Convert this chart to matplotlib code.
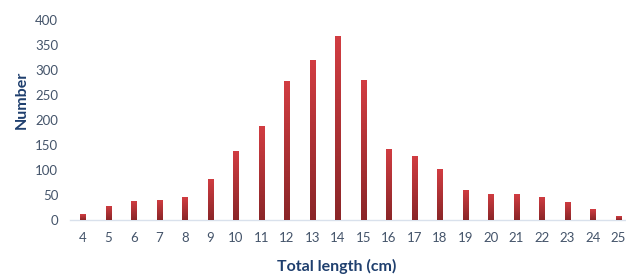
import numpy as np
import matplotlib
matplotlib.use('Agg')
import matplotlib.pyplot as plt
from matplotlib.colors import LinearSegmentedColormap

# length classes (cm) and counts
lengths = [4, 5, 6, 7, 8, 9, 10, 11, 12, 13, 14, 15, 16, 17, 18, 19, 20, 21, 22, 23, 24, 25]
counts = [12, 29, 39, 41, 46, 83, 139, 188, 279, 321, 369, 280, 143, 129, 102, 61, 53, 52, 47, 37, 22, 8]
yticks = [0, 50, 100, 150, 200, 250, 300, 350, 400]

plt.rcParams['font.family'] = ['Lato', 'DejaVu Sans']

text_col = '#44546a'
label_col = '#1f3f6e'

fig = plt.figure(figsize=(6.26, 2.75), dpi=100)
ax = fig.add_axes([70 / 626, 55 / 275, 561 / 626, 200 / 275])

x = np.arange(len(lengths))
bars = ax.bar(x, counts, width=0.2, color='#b52f33', edgecolor='none', zorder=2)

# vertical red gradient on each bar
cmap = LinearSegmentedColormap.from_list('redgrad', ['#8a2628', '#d23d42'])
grad = np.linspace(0, 1, 256).reshape(-1, 1)
for b in bars:
    bx, by = b.get_x(), b.get_y()
    bw, bh = b.get_width(), b.get_height()
    im = ax.imshow(grad, cmap=cmap, origin='lower', aspect='auto',
                   extent=[bx, bx + bw, by, by + bh], zorder=3)
    im.set_clip_path(b)

ax.set_xlim(-0.5, len(lengths) - 0.5)
ax.set_ylim(0, 400)
ax.set_xticks(x)
ax.set_xticklabels([str(v) for v in lengths])
ax.set_yticks(yticks)

for s in ['top', 'right', 'left']:
    ax.spines[s].set_visible(False)
ax.spines['bottom'].set_color('#d9e1ec')
ax.spines['bottom'].set_linewidth(1.0)

ax.tick_params(axis='both', length=0, labelsize=9.5, colors=text_col)
ax.tick_params(axis='x', pad=9)
ax.tick_params(axis='y', pad=8.5)

ax.set_ylabel('Number', fontsize=11.5, fontweight='bold', color=label_col)
ax.yaxis.set_label_coords(-41 / 561, 0.6)
ax.set_xlabel('Total length (cm)', fontsize=11.5, fontweight='bold', color=label_col)
ax.xaxis.set_label_coords((337 - 70) / 561, -39 / 200)

fig.savefig('out.png', dpi=100)
